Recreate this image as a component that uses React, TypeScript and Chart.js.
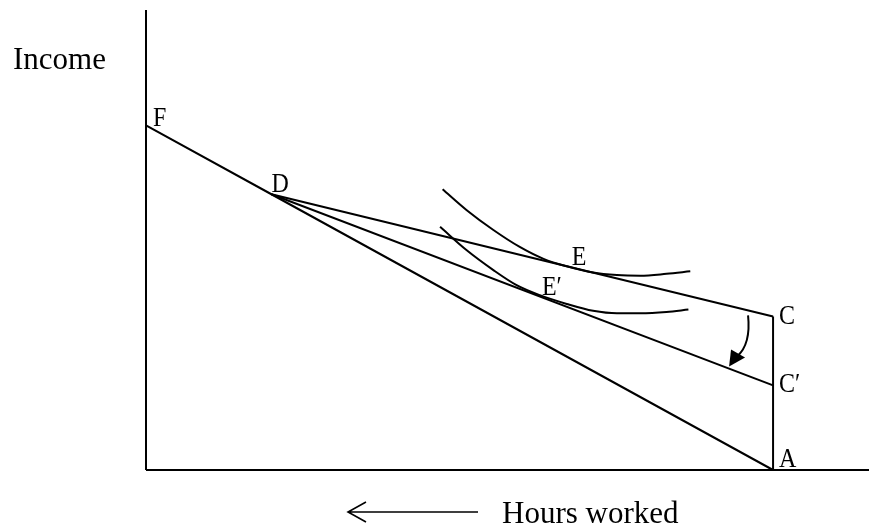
import React, { useEffect, useRef } from "react";
import { Chart, registerables } from "chart.js";

Chart.register(...registerables);

// Diagram data (units: x = hours of leisure measured from the income axis, y = income)
const X_MAX = 115.3;
const Y_MAX = 73.4;

const pointF = { x: 0, y: 55 };
const pointD = { x: 20, y: 44 };
const pointA = { x: 100, y: 0 };
const pointC = { x: 100, y: 24.5 };
const pointC2 = { x: 100, y: 13.5 };
const pointE = { x: 67.1, y: 32.5 };
const pointE2 = { x: 62.5, y: 27.8 };

const upperCurveX = [47.3, 51.1, 55.4, 59.6, 63.4, 67.1, 71.3, 75.1, 78.8, 83.0, 86.8];
const upperCurveY = [44.8, 41.5, 38.3, 35.6, 33.7, 32.5, 31.5, 31.1, 31.0, 31.3, 31.7];
const lowerCurveX = [46.9, 51.1, 55.4, 59.1, 62.8, 67.1, 71.3, 75.1, 78.8, 83.0, 86.5];
const lowerCurveY = [38.8, 35.1, 31.9, 29.5, 27.9, 26.5, 25.4, 25.0, 25.0, 25.2, 25.6];

const pointLabels = ["F", "D", "E", "E\u2032", "C", "C\u2032", "A"];
const yAxisTitle = "Income";
const xAxisTitle = "Hours worked";

const zip = (xs: number[], ys: number[]) => xs.map((x, i) => ({ x, y: ys[i] }));

export default function App() {
  const ref = useRef<HTMLCanvasElement | null>(null);

  useEffect(() => {
    if (!ref.current) return;
    const line = (data: { x: number; y: number }[], curved = false) => ({
      data,
      showLine: true,
      borderColor: "#000",
      borderWidth: 2,
      pointRadius: 0,
      tension: curved ? 0.4 : 0,
      cubicInterpolationMode: curved ? "monotone" : "default",
      clip: false as any,
      fill: false,
    });

    const labelPlugin = {
      id: "diagramLabels",
      afterDatasetsDraw(chart: any) {
        const { ctx } = chart;
        const xs = chart.scales.x;
        const ys = chart.scales.y;
        const px = (p: { x: number; y: number }) => [xs.getPixelForValue(p.x), ys.getPixelForValue(p.y)];
        ctx.save();
        ctx.fillStyle = "#000";
        ctx.strokeStyle = "#000";
        ctx.textBaseline = "alphabetic";
        ctx.textAlign = "left";
        const anchors = [pointF, pointD, pointE, pointE2, pointC, pointC2, pointA];
        const offsets = [
          [7, 1],
          [0, -2],
          [5, -1],
          [4, -1],
          [6, 8],
          [6, 7],
          [6, -3],
        ];
        anchors.forEach((p, i) => {
          const [x, y] = px(p);
          ctx.save();
          ctx.translate(x + offsets[i][0], y + offsets[i][1]);
          ctx.scale(1, 1.12);
          ctx.font = "24px 'Liberation Serif', 'Times New Roman', serif";
          ctx.fillText(pointLabels[i], 0, 0);
          ctx.restore();
        });

        // curved arrow from line DC to DC'
        const [cx, cy] = px(pointC);
        ctx.lineWidth = 2;
        ctx.beginPath();
        ctx.moveTo(cx - 25, cy - 1);
        ctx.quadraticCurveTo(cx - 22, cy + 28, cx - 36, cy + 40);
        ctx.stroke();
        ctx.beginPath();
        ctx.moveTo(cx - 44, cy + 50);
        ctx.lineTo(cx - 42, cy + 33);
        ctx.lineTo(cx - 28, cy + 41);
        ctx.closePath();
        ctx.fill();

        // axis titles
        const [ox, oy] = px({ x: 0, y: 0 });
        ctx.font = "31px 'Liberation Serif', 'Times New Roman', serif";
        ctx.fillText(yAxisTitle, ox - 133, ys.getPixelForValue(Y_MAX) + 59);
        ctx.fillText(xAxisTitle, ox + 356, oy + 53);

        // left arrow next to "Hours worked"
        const ay = oy + 42;
        const ax0 = ox + 332;
        const ax1 = ox + 202;
        ctx.lineWidth = 1.6;
        ctx.beginPath();
        ctx.moveTo(ax0, ay);
        ctx.lineTo(ax1, ay);
        ctx.moveTo(ax1 + 18, ay - 10);
        ctx.lineTo(ax1, ay);
        ctx.lineTo(ax1 + 18, ay + 10);
        ctx.stroke();
        ctx.restore();
      },
    };

    const chart = new Chart(ref.current, {
      type: "scatter",
      data: {
        datasets: [
          line([{ x: 0, y: 0 }, { x: 0, y: Y_MAX }]),
          line([{ x: 0, y: 0 }, { x: X_MAX, y: 0 }]),
          line([pointF, pointD, pointA]),
          line([pointD, pointC]),
          line([pointD, pointC2]),
          line([pointA, pointC]),
          line(zip(upperCurveX, upperCurveY), true),
          line(zip(lowerCurveX, lowerCurveY), true),
        ] as any,
      },
      options: {
        animation: false,
        responsive: false,
        maintainAspectRatio: false,
        layout: { padding: { left: 146, right: 0, top: 10, bottom: 61 } },
        plugins: { legend: { display: false }, tooltip: { enabled: false } },
        scales: {
          x: { type: "linear", min: 0, max: X_MAX, display: false },
          y: { type: "linear", min: 0, max: Y_MAX, display: false },
        },
      },
      plugins: [labelPlugin],
    });
    return () => chart.destroy();
  }, []);

  return (
    <div style={{ position: "fixed", left: 0, top: 0, width: 869, height: 531, background: "#fff" }}>
      <canvas ref={ref} width={869} height={531} style={{ display: "block" }} />
    </div>
  );
}
